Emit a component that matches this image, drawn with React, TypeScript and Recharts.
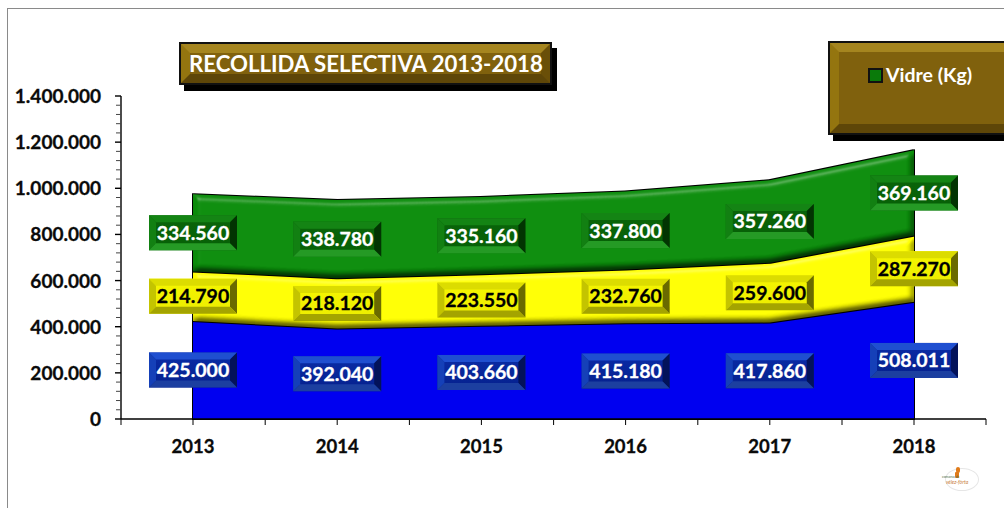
import { ComposedChart, Area, Line, XAxis, YAxis, LabelList } from 'recharts';

const years = ['2013', '2014', '2015', '2016', '2017', '2018'];
const paper = [425000, 392040, 403660, 415180, 417860, 508011];
const envasos = [214790, 218120, 223550, 232760, 259600, 287270];
const vidre = [334560, 338780, 335160, 337800, 357260, 369160];
const yTicks = [
  0, 40000, 80000, 120000, 160000, 200000, 240000, 280000, 320000, 360000, 400000, 440000, 480000, 520000, 560000,
  600000, 640000, 680000, 720000, 760000, 800000, 840000, 880000, 920000, 960000, 1000000, 1040000, 1080000,
  1120000, 1160000, 1200000, 1240000, 1280000, 1320000, 1360000, 1400000,
];

// mid* only place the value boxes in the middle of each band
const rows = years.map((year, i) => ({
  year,
  paper: paper[i],
  envasos: envasos[i],
  vidre: vidre[i],
  midPaper: paper[i] / 2,
  midEnvasos: paper[i] + envasos[i] / 2,
  midVidre: paper[i] + envasos[i] + vidre[i] / 2,
}));

const FONT = 'Lato, "Open Sans", sans-serif';
const HALF_BAND = 72;

const fmt = (v: number) => String(v).replace(/\B(?=(\d{3})+(?!\d))/g, '.');

const YTick = ({ x, y, payload }: any) => {
  const major = payload.value % 200000 === 0;
  return (
    <g>
      <line x1={major ? x + 2 : x + 3} x2={x + 8} y1={y} y2={y} stroke={major ? '#000' : '#444'} strokeWidth={major ? 1.4 : 1} />
      {major && (
        <text x={x - 12} y={y + 7} textAnchor="end" fontFamily={FONT} fontWeight={700} fontSize={19} fill="#0a0a0a" stroke="#0a0a0a" strokeWidth={0.3}>
          {fmt(payload.value)}
        </text>
      )}
    </g>
  );
};

const XTick = ({ x, y, payload, index }: any) => {
  return (
    <g>
      <line x1={x} x2={x} y1={y - 8} y2={y - 2} stroke="#000" />
      <line x1={x - HALF_BAND} x2={x - HALF_BAND} y1={y - 8} y2={y - 2} stroke="#000" />
      {index === years.length - 1 && (
        <line x1={x + HALF_BAND} x2={x + HALF_BAND} y1={y - 8} y2={y - 2} stroke="#000" />
      )}
      <text x={x} y={y + 26} textAnchor="middle" fontFamily={FONT} fontWeight={700} fontSize={18.5} fill="#0a0a0a" stroke="#0a0a0a" strokeWidth={0.3}>
        {payload.value}
      </text>
    </g>
  );
};

const boxColors: any = {
  paper: { top: '#1f4fd0', left: '#1540b8', right: '#03125a', bottom: '#1c3fa0', a: '#0a2ca8', b: '#05208c', text: '#fff' },
  envasos: { top: '#dcdc00', left: '#c4c400', right: '#6a6a00', bottom: '#a4a400', a: '#f6f600', b: '#ecec00', text: '#000' },
  vidre: { top: '#148414', left: '#128012', right: '#023402', bottom: '#259a25', a: '#0a640a', b: '#066006', text: '#fff' },
};

const valueBox = (kind: string, values: number[]) => (props: any) => {
  const { x, y, index } = props;
  const c = boxColors[kind];
  const w = 88;
  const h = 35;
  const b = 7;
  const l = x - w / 2;
  const t = y - h / 2;
  const r = l + w;
  const d = t + h;
  return (
    <g>
      <rect x={l} y={t} width={w} height={h} fill={`url(#face-${kind})`} />
      <polygon points={`${l},${t} ${r},${t} ${r - b},${t + b} ${l + b},${t + b}`} fill={c.top} />
      <polygon points={`${l},${t} ${l + b},${t + b} ${l + b},${d - b} ${l},${d}`} fill={c.left} />
      <polygon points={`${r},${t} ${r - b},${t + b} ${r - b},${d - b} ${r},${d}`} fill={c.right} />
      <polygon points={`${l},${d} ${l + b},${d - b} ${r - b},${d - b} ${r},${d}`} fill={c.bottom} />
      <text x={x} y={y + 7} textAnchor="middle" fontFamily={FONT} fontWeight={700} fontSize={19.5} fill={c.text} stroke={c.text} strokeWidth={0.3}>
        {fmt(values[index])}
      </text>
    </g>
  );
};

const Defs = () => (
  <defs>
    {Object.keys(boxColors).map((k) => (
      <linearGradient key={k} id={`face-${k}`} x1="0" y1="0" x2="0" y2="1">
        <stop offset="0" stopColor={boxColors[k].a} />
        <stop offset="1" stopColor={boxColors[k].b} />
      </linearGradient>
    ))}
    <filter id="bevel" x="-3%" y="-10%" width="106%" height="120%" colorInterpolationFilters="sRGB">
      <feMorphology in="SourceAlpha" operator="dilate" radius="0.8" result="fat" />
      <feFlood floodColor="#000" />
      <feComposite in2="fat" operator="in" result="outline" />
      <feGaussianBlur in="SourceAlpha" stdDeviation="3" result="blur" />
      <feDiffuseLighting in="blur" surfaceScale="4" diffuseConstant="1.414" lightingColor="#fff" result="diff">
        <feDistantLight azimuth="250" elevation="45" />
      </feDiffuseLighting>
      <feSpecularLighting in="blur" surfaceScale="4" specularConstant="0.3" specularExponent="30" lightingColor="#fff" result="spec">
        <feDistantLight azimuth="250" elevation="45" />
      </feSpecularLighting>
      <feComposite in="diff" in2="SourceGraphic" operator="arithmetic" k1="0.65" k2="0" k3="0.35" k4="0" result="lit" />
      <feComposite in="spec" in2="SourceAlpha" operator="in" result="shine" />
      <feMerge>
        <feMergeNode in="outline" />
        <feMergeNode in="lit" />
        <feMergeNode in="shine" />
      </feMerge>
    </filter>
    <filter id="flat" x="-3%" y="-10%" width="106%" height="120%">
      <feMorphology in="SourceAlpha" operator="dilate" radius="1.4" result="fat" />
      <feFlood floodColor="#000" />
      <feComposite in2="fat" operator="in" result="outline" />
      <feMerge>
        <feMergeNode in="outline" />
        <feMergeNode in="SourceGraphic" />
      </feMerge>
    </filter>
  </defs>
);

const brownBox = (left: number, top: number, width: number, height: number): any => ({
  position: 'absolute',
  left,
  top,
  width,
  height,
  boxSizing: 'border-box',
  background: '#80610d',
  borderStyle: 'solid',
  borderWidth: 11,
  borderTopColor: '#a5851f',
  borderLeftColor: '#94750f',
  borderRightColor: '#6a4f08',
  borderBottomColor: '#5e4608',
  outline: '2px solid #111',
  outlineOffset: -2,
  boxShadow: '5px 6px 0 #000',
});

const App = () => {
  return (
    <div style={{ position: 'absolute', left: 0, top: 0, width: 1004, height: 508, overflow: 'hidden', background: '#fff', fontFamily: FONT }}>
      <div style={{ position: 'absolute', left: 7, top: 8, width: 1100, height: 600, borderTop: '1px solid #8a8a8a', borderLeft: '1px solid #8a8a8a' }} />
      <ComposedChart
        width={1004}
        height={508}
        data={rows}
        margin={{ top: 96, right: 18, bottom: 49, left: 8 }}
        style={{ position: 'absolute', left: 0, top: 0 }}
      >
        <Defs />
        <XAxis
          dataKey="year"
          height={40}
          padding={{ left: HALF_BAND, right: HALF_BAND }}
          tickLine={false}
          axisLine={{ stroke: '#000', strokeWidth: 1.4 }}
          interval={0}
          tick={<XTick />}
        />
        <YAxis
          width={113}
          domain={[0, 1400000]}
          ticks={yTicks}
          interval={0}
          tickLine={false}
          axisLine={{ stroke: '#000', strokeWidth: 1.4 }}
          tick={<YTick />}
        />
        <Area dataKey="paper" stackId="a" type="linear" fill="#0000f0" fillOpacity={1} stroke="none" filter="url(#flat)" isAnimationActive={false} />
        <Area dataKey="envasos" stackId="a" type="linear" fill="#ffff00" fillOpacity={1} stroke="none" filter="url(#bevel)" isAnimationActive={false} />
        <Area dataKey="vidre" stackId="a" type="linear" fill="#0a8c0a" fillOpacity={1} stroke="none" filter="url(#bevel)" isAnimationActive={false} />
        <Line dataKey="midPaper" stroke="none" dot={false} activeDot={false} isAnimationActive={false}>
          <LabelList dataKey="midPaper" content={valueBox('paper', paper)} />
        </Line>
        <Line dataKey="midEnvasos" stroke="none" dot={false} activeDot={false} isAnimationActive={false}>
          <LabelList dataKey="midEnvasos" content={valueBox('envasos', envasos)} />
        </Line>
        <Line dataKey="midVidre" stroke="none" dot={false} activeDot={false} isAnimationActive={false}>
          <LabelList dataKey="midVidre" content={valueBox('vidre', vidre)} />
        </Line>
      </ComposedChart>

      <div style={brownBox(179, 42, 373, 43)}>
        <div style={{ position: 'absolute', left: -1, top: -11, height: 43, lineHeight: '43px', color: '#fff', fontWeight: 700, fontSize: 22.2, whiteSpace: 'nowrap' }}>
          RECOLLIDA SELECTIVA 2013-2018
        </div>
      </div>

      <div style={brownBox(828, 41, 190, 94)}>
        <div style={{ position: 'absolute', left: 29, top: 16, width: 15, height: 15, boxSizing: 'border-box', background: '#0a7a0a', border: '2px solid #111' }} />
        <div style={{ position: 'absolute', left: 47, top: 11, color: '#fff', fontWeight: 700, fontSize: 19.5, whiteSpace: 'nowrap' }}>Vidre (Kg)</div>
      </div>

      <div style={{ position: 'absolute', left: 945, top: 468, width: 32, height: 21, borderRadius: '50%', border: '1px solid #e6e6e6' }} />
      <div style={{ position: 'absolute', left: 956, top: 467, width: 4, height: 6, background: '#e07b1a', borderRadius: 2 }} />
      <div style={{ position: 'absolute', left: 955, top: 472, width: 4, height: 6, background: '#e07b1a', borderRadius: 1 }} />
      <div style={{ position: 'absolute', left: 942, top: 475, fontSize: 3.5, color: '#4a6b4a', whiteSpace: 'nowrap' }}>comarca de</div>
      <div style={{ position: 'absolute', left: 946, top: 479, fontSize: 5, fontStyle: 'italic', color: '#c9803a', whiteSpace: 'nowrap' }}>vélez-fòrta</div>
    </div>
  );
};

export default App;
